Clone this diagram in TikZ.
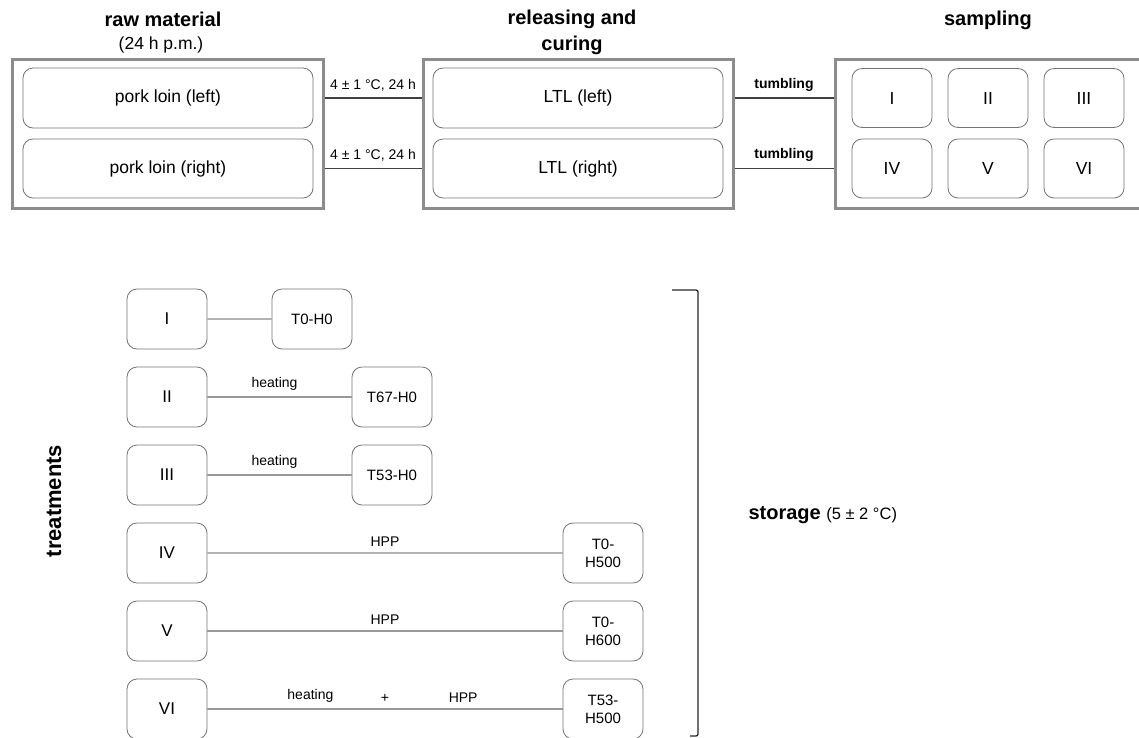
\documentclass[tikz,border=0pt]{standalone}
\usepackage{fontspec}
\setmainfont{Liberation Sans}
\begin{document}
\begin{tikzpicture}[x=1pt,y=-1pt,
  stage/.style={draw=black!45, line width=3pt, inner sep=0pt},
  cell/.style={draw=black!55, line width=0.8pt, rounded corners=10pt, inner sep=0pt,
               font=\fontsize{17.5}{20}\selectfont, align=center},
  small/.style={draw=black!55, line width=0.8pt, rounded corners=10pt, inner sep=0pt,
               minimum width=80pt, minimum height=60pt, font=\fontsize{15}{18}\selectfont, align=center},
  title/.style={font=\fontsize{20}{26}\selectfont\bfseries, align=center},
  flow/.style={draw=black!75, line width=1.2pt},
  link/.style={draw=black!40, line width=1.1pt},
  lbl/.style={font=\fontsize{14}{16}\selectfont},
  blbl/.style={font=\fontsize{14}{16}\selectfont\bfseries},
]
\useasboundingbox (0,0) rectangle (1139,737);

% --- stage frames ---
\node[stage, minimum width=311pt, minimum height=149pt] (raw) at (167.5,133.5) {};
\node[stage, minimum width=310pt, minimum height=149pt] (rel) at (578,133.5) {};
\node[stage, minimum width=306pt, minimum height=149pt] (samp) at (988,133.5) {};

% --- stage titles ---
\node[title] (rawT) at (163,19) {raw material};
\node[font=\fontsize{17.5}{20}\selectfont] (rawS) at (161,45) {(24 h p.m.)};
\node[title] (relT) at (572,32) {releasing and\\curing};
\node[title] (sampT) at (988,20) {sampling};

% --- raw material ---
\node[cell, minimum width=290pt, minimum height=60pt] (pl) at (168,98) {pork loin (left)};
\node[cell, minimum width=290pt, minimum height=59pt] (pr) at (168,168.5) {pork loin (right)};

% --- releasing and curing ---
\node[cell, minimum width=290pt, minimum height=60pt] (ll) at (578,98) {LTL (left)};
\node[cell, minimum width=290pt, minimum height=59pt] (lr) at (578,168.5) {LTL (right)};

% --- sampling ---
\foreach \n/\t/\x/\y in {s1/I/892/98, s2/II/988/98, s3/III/1084/98,
                         s4/IV/892/168.5, s5/V/988/168.5, s6/VI/1084/168.5}
  \node[cell, minimum width=80pt, minimum height=59pt] (\n) at (\x,\y) {\t};

% --- stage connectors ---
\draw[flow] (raw.east |- pl.east) -- node[lbl, above=3pt] {4 ± 1 °C, 24 h} (rel.west |- ll.west);
\draw[flow] (raw.east |- pr.east) -- node[lbl, above=3pt] {4 ± 1 °C, 24 h} (rel.west |- lr.west);
\draw[flow] (rel.east |- ll.east) -- node[blbl, above=3pt] {tumbling} (samp.west |- s1.west);
\draw[flow] (rel.east |- lr.east) -- node[blbl, above=3pt] {tumbling} (samp.west |- s4.west);

% --- treatments ---
\node[font=\fontsize{22}{26}\selectfont\bfseries, rotate=90] (treat) at (54,501) {treatments};

\foreach \n/\t/\y in {t1/I/319, t2/II/397, t3/III/475, t4/IV/553, t5/V/631, t6/VI/709}
  \node[small, font=\fontsize{17}{20}\selectfont] (\n) at (167,\y) {\t};

\node[small] (r1) at (312,319) {T0-H0};
\node[small] (r2) at (392,397) {T67-H0};
\node[small] (r3) at (392,475) {T53-H0};
\node[small] (r4) at (603,553) {T0-\\H500};
\node[small] (r5) at (603,631) {T0-\\H600};
\node[small] (r6) at (603,709) {T53-\\H500};

\draw[link, draw=black!30] (t1) -- (r1);
\draw[link] (t2) -- node[lbl, above=3pt, xshift=-5pt] {heating} (r2);
\draw[link] (t3) -- node[lbl, above=3pt, xshift=-5pt] {heating} (r3);
\draw[link, draw=black!30] (t4) -- node[lbl, above=3pt] {HPP} (r4);
\draw[link] (t5) -- node[lbl, above=3pt] {HPP} (r5);
\draw[link] (t6) -- node[lbl, above=3pt, pos=0.29] {heating}
                   node[lbl, above=3pt, pos=0.5] {+}
                   node[lbl, above=3pt, pos=0.72] {HPP} (r6);

% --- storage bracket ---
\coordinate (bt) at (672,290);
\coordinate (bb) at (690,736);
\draw[black!85, line width=1.3pt, rounded corners=2pt] (bt) -- (698,290) -- (698,736) -- (bb);
\node[anchor=west, font=\fontsize{20}{24}\selectfont] (stor) at (745,515)
  {\textbf{storage} {\fontsize{16.5}{18}\selectfont(5 ± 2 °C)}};
\end{tikzpicture}
\end{document}
